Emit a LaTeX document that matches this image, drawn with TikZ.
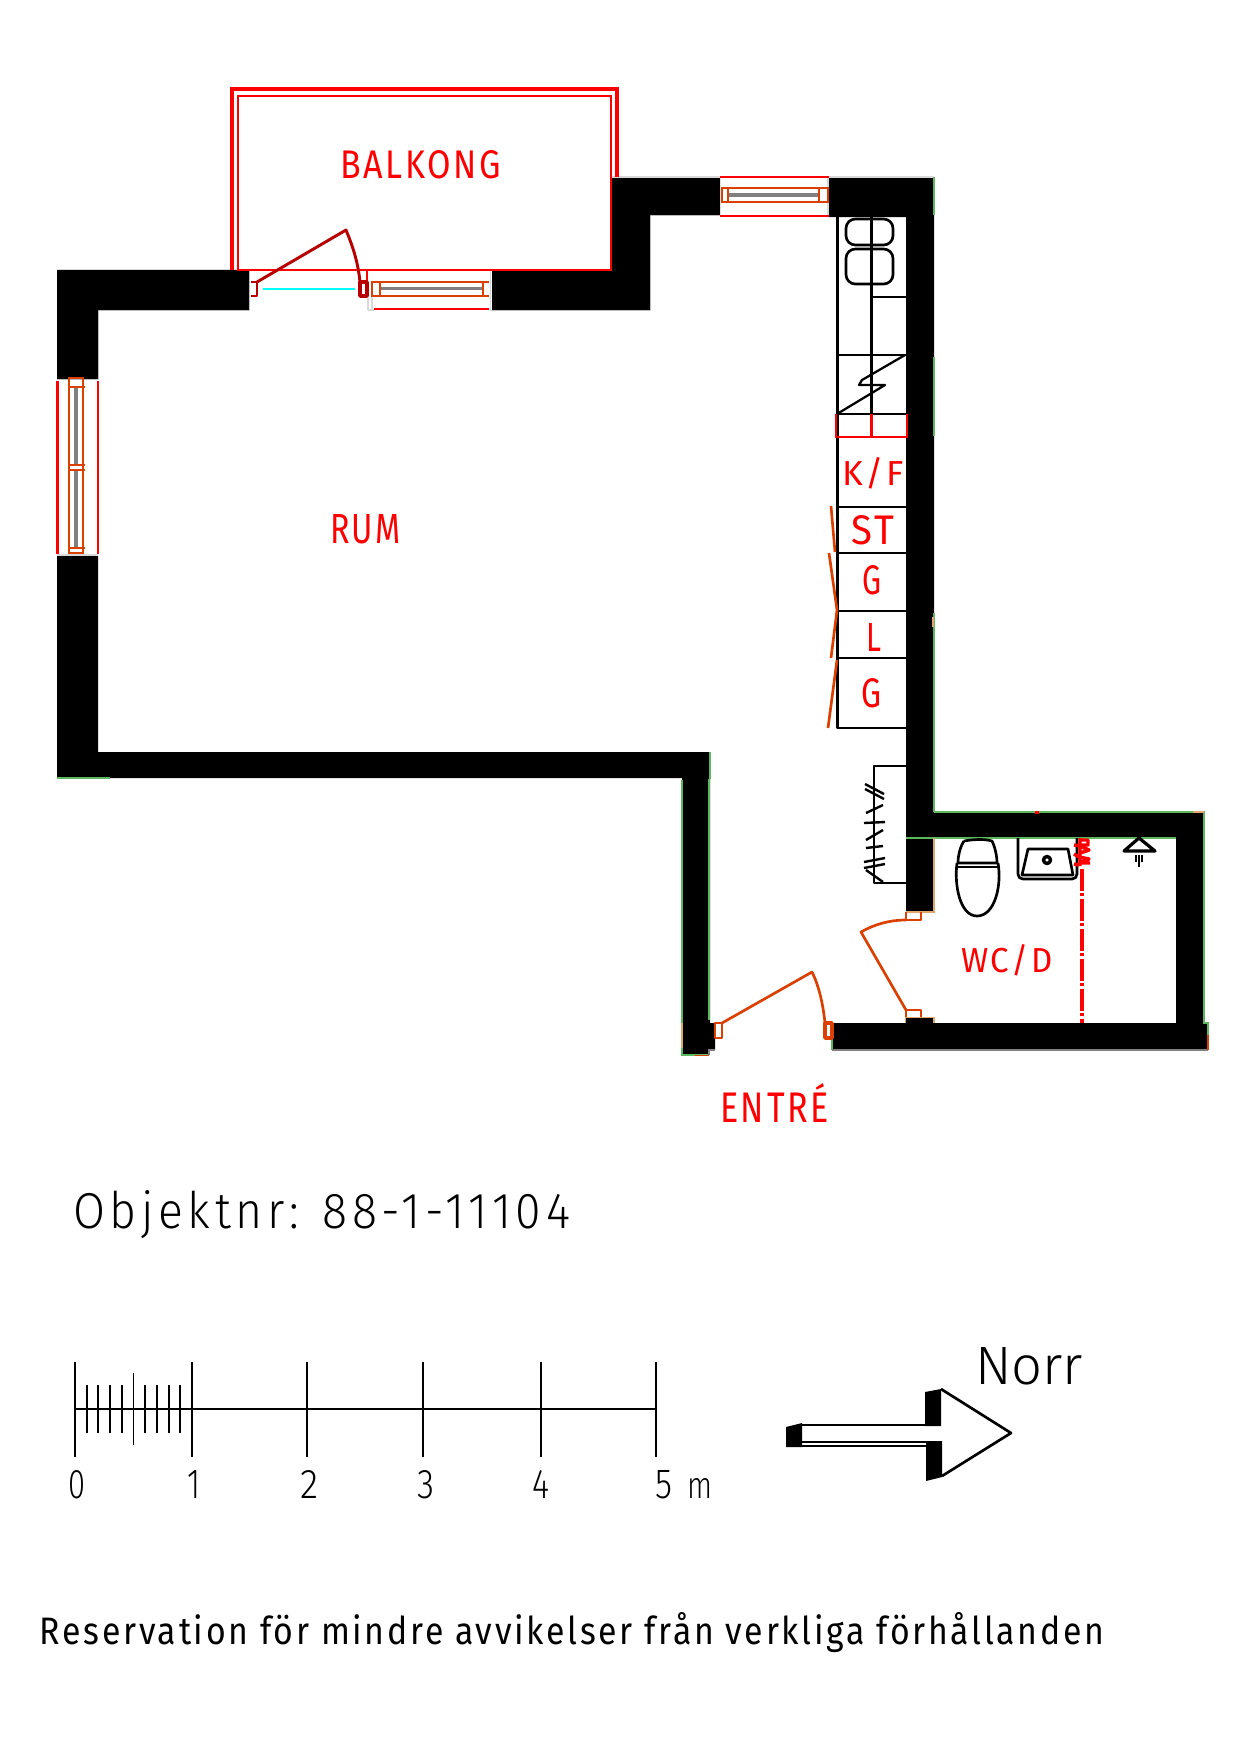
\documentclass[tikz,border=0pt]{standalone}
\usepackage{fontspec}
\usepackage{graphicx}
\newfontfamily\cadf[LetterSpace=8]{Fira Sans}
\newfontfamily\cadl[LetterSpace=10]{Fira Sans Light}
\definecolor{cadred}{HTML}{FF0000}
\definecolor{cadorange}{HTML}{DC4000}
\definecolor{darkred}{HTML}{B80000}
\definecolor{cadgray}{HTML}{808080}
\definecolor{lightedge}{HTML}{D8D8D8}
\definecolor{cadcyan}{HTML}{00FFFF}
\definecolor{cadgreen}{HTML}{5CB85C}
\definecolor{cadtan}{HTML}{E0A870}
\newdimen\pxu \pxu=0.75pt
\newcommand{\cadlabel}[7]{\node[anchor=base west,inner sep=0pt,outer sep=0pt,text=#2] (#1) at (#3,#4) {\resizebox{#5\pxu}{#6\pxu}{\cadf #7}};}
\newcommand{\cadbig}[7]{\node[anchor=base west,inner sep=0pt,outer sep=0pt,text=#2] (#1) at (#3,#4) {\resizebox{#5\pxu}{#6\pxu}{\cadl #7}};}
\tikzset{
  wall/.style={fill=black,draw=none},
  edgeline/.style={draw=lightedge,line width=1.2pt},
  greenline/.style={draw=cadgreen,line width=.8pt},
  tanline/.style={draw=cadtan,line width=1pt},
  redthin/.style={draw=cadred,line width=1.5pt},
  redthick/.style={draw=cadred,line width=2.2pt},
  frameline/.style={draw=cadorange,line width=1.8pt},
  doorline/.style={draw=cadorange,line width=2pt,line join=round},
  darkdoor/.style={draw=darkred,line width=2.2pt,line join=round},
  glass/.style={draw=cadgray,line width=2.4pt},
  fixture/.style={draw=black,line width=2pt,line join=round},
  thinline/.style={draw=black,line width=1.4pt},
  midline/.style={draw=black,line width=2pt}
}
\begin{document}
\begin{tikzpicture}[x=0.75pt,y=-0.75pt]
\useasboundingbox (0,0) rectangle (1240,1754);
% ---------- light edges
\draw[edgeline] (57,269.5) -- (249.5,269.5) -- (249.5,310.5) -- (98.5,310.5) -- (98.5,380);
\draw[edgeline] (57,379.5) -- (98,379.5);
\draw[edgeline] (57,555) -- (98,555);
\draw[edgeline] (490.5,270) -- (490.5,310.5) -- (650.5,310.5) -- (650.5,215.5) -- (720,215.5);
\draw[edgeline] (612,177) -- (934,177);
\draw[edgeline] (368,310) -- (374,310) (368,296) -- (368,310) (372,296) -- (372,310);
\draw[edgeline] (828,178) -- (828,217);
% ---------- walls
\fill[wall] (57,270) -- (249,270) -- (249,310) -- (98,310) -- (98,379) -- (57,379) -- cycle;
\fill[wall] (57,556) -- (98,556) -- (98,752) -- (710,752) -- (710,1023) -- (715,1023) -- (715,1050)
  -- (709,1050) -- (709,1055) -- (682,1055) -- (682,778) -- (57,778) -- cycle;
\fill[wall] (492,270) -- (612,270) -- (612,178) -- (720,178) -- (720,215) -- (650,215) -- (650,310) -- (492,310) -- cycle;
\fill[wall] (829,178) -- (934,178) -- (934,812) -- (1204,812) -- (1204,1023) -- (1208,1023) -- (1208,1050)
  -- (832,1050) -- (832,1023) -- (1176,1023) -- (1176,838) -- (934,838) -- (934,912) -- (906,912)
  -- (906,217) -- (829,217) -- cycle;
\fill[wall] (906,1018) rectangle (934,1023);
% ---------- green / tan wall edges
\draw[greenline] (934,177) -- (934,215) (934,357) -- (934,436) (934,613) -- (934,812)
  (934,812) -- (1204,812) -- (1204,1023) -- (1208,1023) -- (1208,1035)
  (906,838) -- (1176,838) (710,752) -- (710,779) (709,779) -- (709,1020)
  (682,780) -- (682,1055) -- (709,1055) (832,1023) -- (832,1050)
  (57,778) -- (110,778);
\draw[draw=cadgray,line width=.8pt] (832,1050) -- (1208,1050) (709,1055) -- (709,1050) -- (715,1050);
\draw[draw=cadorange,line width=1.2pt] (1208,1035) -- (1208,1050) (695,1055.5) -- (709,1055.5);
\draw[tanline] (934,838) -- (934,912) -- (906,912) (905.5,1023) -- (905.5,1017.5) -- (934,1017.5) -- (934,1023)
  (1193,812) -- (1204,812) (682,1023) -- (682,1048);
\fill[cadtan] (931.5,617) rectangle (934,627);
\fill[cadred] (1035,811) rectangle (1039,814);
% ---------- balcony
\draw[redthick,line width=2.5pt,line join=miter] (232,270) -- (232,89) -- (617,89) -- (617,177);
\draw[redthin,line width=2.2pt] (238,270) -- (238,96) -- (611,96) -- (611,270) -- cycle;
% ---------- balcony window
\draw[redthick] (251,270) -- (489,270);
\draw[redthick] (374,309) -- (489,309);
\draw[redthin,line width=1.3pt] (367,270) -- (367,282);
\draw[frameline] (489,282) -- (372,282) -- (372,296) -- (489,296);
\draw[frameline] (380,282) -- (380,296) (483,282) -- (483,296);
\draw[glass] (381,288.5) -- (482,288.5);
\draw[cadcyan,line width=1.7pt] (263,289) -- (355,289);
% ---------- balcony door
\draw[darkdoor] (251,282) -- (257,282) -- (257,296) -- (251,296);
\draw[darkdoor] (257,282) -- (346,230) .. controls (353,247) and (358,262) .. (360,282);
\draw[darkdoor,line width=2.6pt] (360,282) rectangle (367,296);
% ---------- top window
\draw[redthick] (720,177) -- (829,177) (720,216) -- (829,216);
\draw[frameline] (722,188) rectangle (828,202);
\draw[frameline] (728,188) -- (728,202) (819,188) -- (819,202);
\draw[glass] (729,195) -- (818,195);
% ---------- left window
\draw[redthick] (57.5,381) -- (57.5,554) (98,381) -- (98,554);
\draw[frameline] (69,378) rectangle (83,553);
\draw[frameline] (69,387) -- (85,387) (69,465) -- (85,465) (69,470) -- (85,470) (69,548) -- (85,548);
\draw[glass] (76,388) -- (76,464) (76,471) -- (76,547);
% ---------- kitchen
\draw[fixture] (837.5,217) -- (837.5,728) -- (906,728);
\draw[fixture,line width=2.3pt] (871.3,217) -- (871.3,414);
\draw[fixture] (871,297) -- (906,297);
\draw[fixture] (837.5,355) -- (906,355);
\draw[fixture] (837.5,414) -- (906,414);
\draw[fixture] (837.5,507) -- (906,507) (837.5,553) -- (906,553) (837.5,611) -- (906,611) (837.5,658) -- (906,658);
\draw[fixture,rounded corners=7pt] (846,219) rectangle (893,245);
\draw[fixture,rounded corners=7pt] (846,249) rectangle (893,284);
\draw[fixture,line width=1.7pt] (905,355) -- (862,380) -- (859,385) -- (885,385) -- (837,414);
\draw[redthick] (836,414) -- (836,437) -- (907,437) -- (907,414);
\draw[redthick] (871.3,414) -- (871.3,437);
\draw[doorline] (831,506) -- (835,552) (829,553) -- (837,610) -- (831,658) (837,660) -- (828,728);
% ---------- electrical symbol
\draw[fixture] (906,766) -- (874,766) -- (874,883) -- (906,883);
\draw[fixture,line width=1.8pt] (865,784) -- (884,794) (865,789) -- (884,799) (866,813) -- (883,805)
  (864,823) -- (885,822) (866,840) -- (883,830) (866,848) -- (883,846) (864,862) -- (885,858)
  (864,868) -- (885,864) (866,870) -- (883,882);
% ---------- entrance door
\draw[doorline] (715,1023) rectangle (722,1038);
\draw[doorline] (722,1023) -- (812,972) .. controls (819,986) and (823,1004) .. (825,1023);
\draw[doorline,line width=2.6pt] (825,1023) rectangle (832,1038);
% ---------- bathroom door
\draw[doorline] (906,912) -- (906,920) -- (921,920) -- (921,912);
\draw[doorline] (906,1017) -- (906,1010) -- (921,1010) -- (921,1017);
\draw[doorline] (906,920) .. controls (890,920) and (875,924) .. (861,932) -- (906,1010);
% ---------- WC
\draw[fixture] (964,841) .. controls (975,839) and (985,839) .. (992,841) .. controls (995,847) and (997,856) .. (997,863)
  -- (958,863) .. controls (958,856) and (960,847) .. (964,841);
\draw[fixture] (957,867) -- (998,867);
\draw[fixture] (957,863) .. controls (954,885) and (960,916) .. (977,916) .. controls (995,916) and (1002,885) .. (998,863);
% ---------- washbasin
\draw[fixture] (1018,838) -- (1018,874) .. controls (1018,877) and (1020,879) .. (1023,879) -- (1072,879)
  .. controls (1075,879) and (1077,877) .. (1077,874) -- (1077,838);
\draw[fixture] (1028,849) -- (1068,849) -- (1073,875) -- (1022,875) -- cycle;
\draw[fixture,line width=2.6pt] (1047,860) circle (3.5);
% ---------- shower
\draw[fixture,line width=2.4pt] (1124,851) -- (1155,851) -- (1139,838) -- cycle;
\draw[fixture] (1136,855) -- (1136,862) (1139,855) -- (1139,867) (1142,855) -- (1142,862);
% ---------- dash-dot line and label fragment
\draw[cadred,line width=3.6pt,dash pattern=on 16.5pt off 1.5pt on 2.2pt off 2.3pt] (1082,869) -- (1082,1023);
\draw[cadred,line width=2.6pt,line join=round] (1080,840) -- (1088,840) -- (1088,845) -- (1080,845)
  (1074,845) -- (1080,846) -- (1089,850) -- (1080,853) (1074,854) -- (1079,857) -- (1089,859) -- (1080,863) -- (1090,863)
  (1074,864) -- (1079,865) (1080,838) -- (1080,866);
% ---------- labels
\cadlabel{balkong}{cadred}{340}{178}{161}{28}{BALKONG}
\cadlabel{rum}{cadred}{330}{543}{71}{29}{RUM}
\cadlabel{kf}{cadred}{842}{485}{62}{28}{K/F}
\cadlabel{st}{cadred}{851}{544}{43}{29}{ST}
\cadlabel{ga}{cadred}{862}{594}{19}{29}{G}
\cadlabel{el}{cadred}{866}{651}{15}{28}{L}
\cadlabel{gb}{cadred}{861}{707}{20}{29}{G}
\cadlabel{wcd}{cadred}{961}{972}{92}{28}{WC/D}
\cadlabel{entre}{cadred}{720}{1122}{109}{39}{ENTRÉ}
\cadbig{objekt}{black}{73}{1228}{497}{38}{Objektnr: 88-1-11104}
\node[anchor=base west,inner sep=0pt,outer sep=0pt] (norr) at (975,1384) {\resizebox{108\pxu}{37\pxu}{\fontspec{Fira Sans Light}Norr}};
\cadlabel{reserv}{black}{40}{1644}{1064}{32}{Reservation för mindre avvikelser från verkliga förhållanden}
\cadbig{n0}{black}{68}{1498}{17}{28}{0}
\cadbig{n1}{black}{187}{1498}{13}{28}{1}
\cadbig{n2}{black}{300}{1498}{18}{28}{2}
\cadbig{n3}{black}{417}{1498}{17}{28}{3}
\cadbig{n4}{black}{532}{1498}{17}{28}{4}
\cadbig{n5}{black}{655}{1498}{17}{28}{5}
\cadbig{nm}{black}{687}{1498}{25}{20}{m}
% ---------- scale bar
\draw[midline] (75,1409) -- (656,1409);
\foreach \xx in {75,192,307,423,541,656} \draw[thinline] (\xx,1362) -- (\xx,1457);
\foreach \xx in {86.7,98.4,110.1,121.8,145.2,156.9,168.6,180.3} \draw[midline,line width=1.5pt] (\xx,1385) -- (\xx,1433);
\draw[thinline] (133.5,1373) -- (133.5,1445);
% ---------- north arrow
\fill[black] (786,1427) -- (802,1423) -- (802,1447) -- (786,1447) -- cycle;
\fill[black] (925,1392) -- (941,1389) -- (941,1426) -- (925,1426) -- cycle;
\fill[black] (926,1441) -- (942,1441) -- (942,1477) -- (926,1481) -- cycle;
\draw[fixture] (802,1425) -- (925,1425);
\draw[fixture,line width=1.5pt] (802,1442) -- (926,1442) (802,1446) -- (929,1446);
\draw[fixture] (941,1389) -- (1011,1433) -- (942,1476);
\end{tikzpicture}
\end{document}
